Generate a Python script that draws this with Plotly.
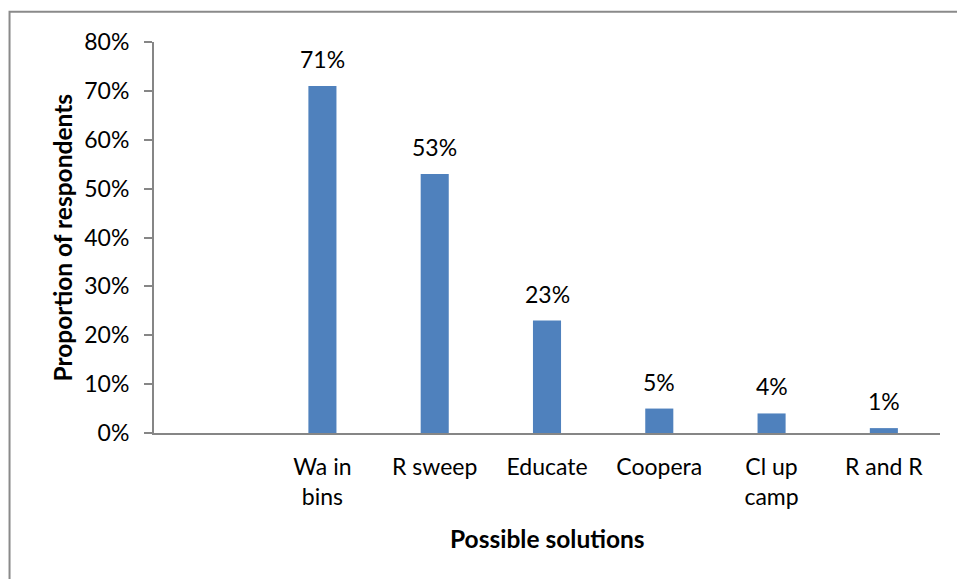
import plotly.graph_objects as go

# Survey results: share of respondents naming each possible solution
categories = ["", "Wa in<br>bins", "R sweep", "Educate", "Coopera", "Cl up<br>camp", "R and R"]
shares = [None, 0.71, 0.53, 0.23, 0.05, 0.04, 0.01]
y_ticks = [0, 0.1, 0.2, 0.3, 0.4, 0.5, 0.6, 0.7, 0.8]
y_tick_labels = ["0%", "10%", "20%", "30%", "40%", "50%", "60%", "70%", "80%"]

FONT = "Lato, 'Open Sans', sans-serif"
BAR_COLOR = "#4F81BD"
AXIS_GRAY = "#868686"
TEXT_SIZE = 23
TITLE_SIZE = 24.5

positions = list(range(len(categories)))

fig = go.Figure(
    go.Bar(
        x=positions,
        y=shares,
        marker=dict(color=BAR_COLOR, line=dict(width=0)),
        width=0.25,
        hoverinfo="skip",
    )
)

# value labels above each bar
for xpos, val in zip(positions, shares):
    if val is None:
        continue
    fig.add_annotation(
        x=xpos, y=val, xref="x", yref="y",
        text=f"{round(val * 100)}%",
        showarrow=False, yanchor="bottom", yshift=11,
        font=dict(family=FONT, size=TEXT_SIZE, color="#000000"),
    )

# axis titles
fig.add_annotation(
    x=-0.117, y=0.5, xref="paper", yref="paper",
    text="<b>Proportion of respondents</b>", textangle=-90,
    showarrow=False, xanchor="center", yanchor="middle",
    font=dict(family=FONT, size=TITLE_SIZE, color="#000000"),
)
fig.add_annotation(
    x=0.5, y=-0.271, xref="paper", yref="paper",
    text="<b>Possible solutions</b>",
    showarrow=False, xanchor="center", yanchor="middle",
    font=dict(family=FONT, size=TITLE_SIZE, color="#000000"),
)

# chart-area frame
fig.add_shape(
    type="rect", xref="paper", yref="paper",
    x0=-0.1838, x1=1.03, y0=-0.40, y1=1.0772,
    line=dict(color="#8a8a8a", width=2), fillcolor="rgba(0,0,0,0)",
    layer="below",
)

fig.update_layout(
    width=957, height=579,
    margin=dict(l=154, r=17, t=42, b=146),
    paper_bgcolor="white", plot_bgcolor="white",
    showlegend=False,
    bargap=0.75,
    font=dict(family=FONT, size=TEXT_SIZE, color="#000000"),
)
fig.update_xaxes(
    range=[-0.5, len(categories) - 0.5],
    tickmode="array", tickvals=positions, ticktext=categories,
    showgrid=False, zeroline=False,
    showline=True, linecolor=AXIS_GRAY, linewidth=2,
    ticks="", ticklabelstandoff=12,
    tickfont=dict(family=FONT, size=TEXT_SIZE, color="#000000"),
)
fig.update_yaxes(
    range=[0, 0.8],
    tickmode="array", tickvals=y_ticks, ticktext=y_tick_labels,
    showgrid=False, zeroline=False,
    showline=True, linecolor=AXIS_GRAY, linewidth=2,
    ticks="outside", ticklen=8, tickcolor=AXIS_GRAY, tickwidth=2,
    ticklabelstandoff=10,
    tickfont=dict(family=FONT, size=TEXT_SIZE, color="#000000"),
)

fig.write_html("out.html")
